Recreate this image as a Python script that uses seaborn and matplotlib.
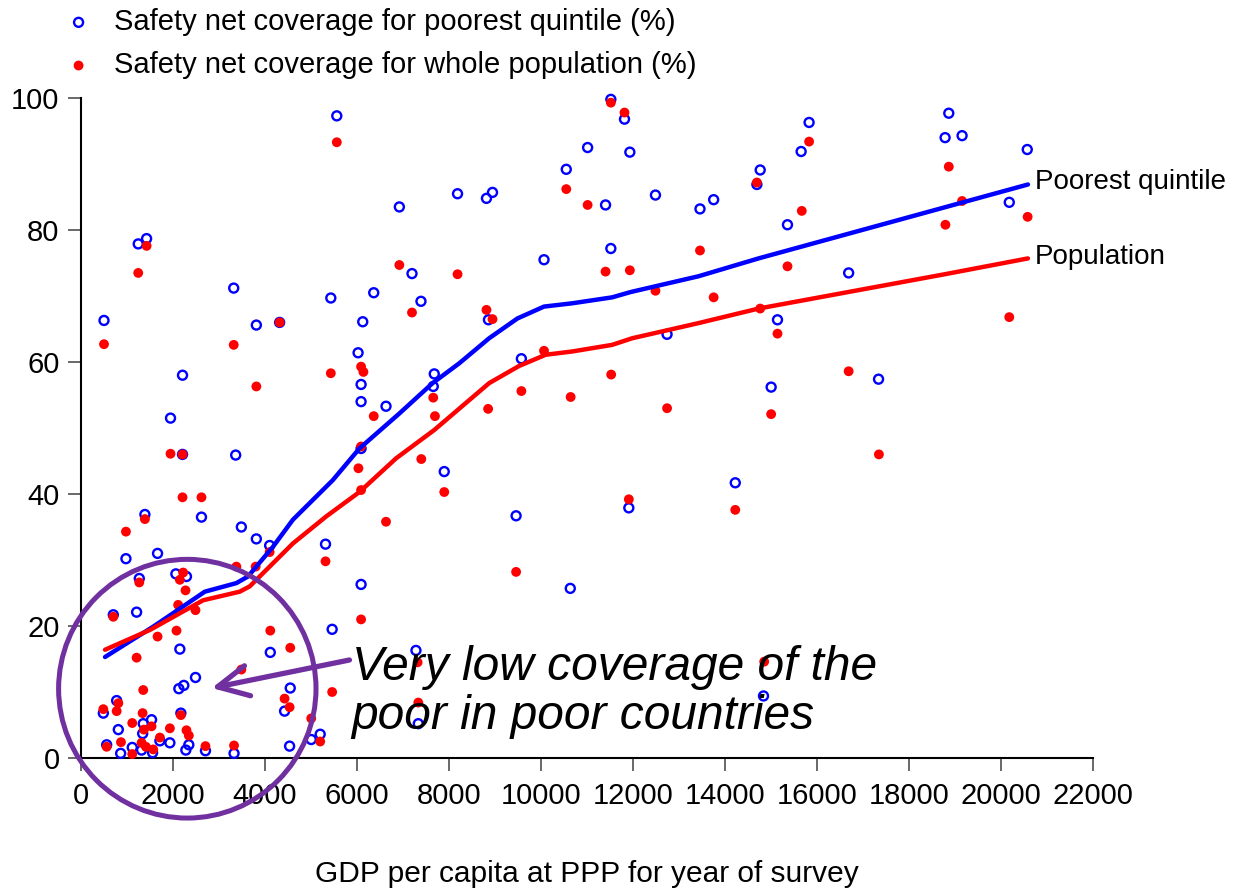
import pandas as pd
import matplotlib
matplotlib.use("Agg")
import matplotlib.pyplot as plt
from matplotlib.patches import Ellipse
import seaborn as sns

# --- values ---
poor_gdp = [499, 1243, 1425, 2206, 1945, 3319, 3811, 4317, 5560, 5430, 6920, 7195, 6363, 6124,
            6023, 6088, 6088, 6630, 7390,
            2206, 3362, 1388, 2618, 3485, 3811, 976, 1663, 4100, 5315, 1266, 2061, 2292, 701,
            1208, 2148, 5459, 4114, 2488, 2234, 2126, 4548, 4425, 5199, 5004, 4534, 3326, 2705,
            484, 774, 810, 557, 861, 1113, 1352, 1340, 1533, 1316, 1555, 1714, 1931, 2170, 2343,
            2278,
            8185, 8814, 8945, 10549, 11013, 11518, 11815, 11931, 11403, 11518, 12488, 13456,
            13753, 8857, 10065, 9573, 12740, 7679, 7657,
            15828, 15655, 14765, 14693, 15358, 15141, 16688, 15003, 17338, 18865, 18785, 19154,
            20571, 20180,
            7896, 9458, 10636, 11909, 14223, 7281, 7332, 14837, 6088, 6088]
poor_cov = [66.3, 77.9, 78.7, 58.0, 51.5, 71.2, 65.6, 66.0, 97.3, 69.7, 83.5, 73.4, 70.5, 66.1,
            61.4, 56.6, 54.0, 53.3, 69.2,
            46.0, 45.9, 36.9, 36.5, 35.0, 33.2, 30.2, 31.0, 32.2, 32.4, 27.2, 27.9, 27.5, 21.7,
            22.1, 16.5, 19.5, 16.0, 12.2, 11.0, 10.5, 10.6, 7.1, 3.6, 2.8, 1.8, 0.7, 1.1,
            6.8, 8.7, 4.3, 2.0, 0.7, 1.6, 5.2, 3.7, 5.8, 1.2, 0.8, 2.6, 2.3, 6.8, 2.0,
            1.2,
            85.5, 84.8, 85.7, 89.2, 92.5, 99.8, 96.8, 91.8, 83.8, 77.2, 85.3, 83.2,
            84.6, 66.4, 75.5, 60.5, 64.2, 58.2, 56.3,
            96.3, 91.9, 89.1, 86.9, 80.8, 66.4, 73.5, 56.2, 57.4, 97.7, 94.0, 94.3,
            92.2, 84.2,
            43.4, 36.7, 25.7, 37.9, 41.7, 16.3, 5.2, 9.4, 46.9, 26.3]

pop_gdp = [499, 1425, 1243, 3319, 3811, 4317, 5560, 5430, 6920, 7195, 6088, 6139, 6363,
           1945, 2206, 2206, 2618, 1388, 976, 4100, 5315, 3377, 3796, 1266, 2220, 2148, 2271,
           2111, 2488, 701, 2075, 1663, 1208, 4114, 4548, 3485, 1352, 4425, 4534, 5459, 5004,
           5199, 3326, 2705, 484, 810, 774, 868, 557, 1113, 1113, 1338, 1367, 1533, 1316, 1410,
           1569, 1714, 1931, 2170, 2292, 2343,
           8185, 8814, 8945, 10549, 11013, 11518, 11815, 11403, 11931, 12488, 13456, 13753,
           14693, 10065, 9573, 10644, 11525, 12740, 7657, 7694, 8850,
           15828, 15669, 15358, 14765, 15141, 16688, 15003, 18865, 19154, 18792, 20579, 20180,
           7397, 7896, 9458, 11909, 14223, 7317, 7332, 14852, 17346,
           6088, 6030, 6088, 6630, 6088]
pop_cov = [62.7, 77.6, 73.5, 62.6, 56.3, 66.0, 93.3, 58.3, 74.7, 67.5, 59.3, 58.5, 51.8,
           46.1, 46.0, 39.5, 39.5, 36.2, 34.3, 31.2, 29.8, 29.0, 29.0, 26.6, 28.1, 27.0, 25.4,
           23.2, 22.4, 21.4, 19.3, 18.4, 15.2, 19.3, 16.7, 13.4, 10.3, 9.0, 7.7, 10.0, 6.0,
           2.5, 1.9, 1.8, 7.4, 8.3, 7.1, 2.4, 1.7, 5.3, 0.6, 6.8, 4.3, 4.8, 2.3, 1.7,
           1.3, 3.1, 4.5, 6.5, 4.2, 3.4,
           73.3, 67.9, 66.5, 86.2, 83.8, 99.3, 97.8, 73.7, 73.9, 70.8, 76.9, 69.8,
           87.2, 61.7, 55.6, 54.7, 58.1, 53.0, 54.6, 51.8, 52.9,
           93.4, 82.9, 74.5, 68.1, 64.3, 58.6, 52.1, 89.6, 84.4, 80.8, 82.0, 66.8,
           45.3, 40.3, 28.2, 39.2, 37.6, 14.5, 8.4, 14.6, 46.0,
           47.2, 43.9, 40.6, 35.8, 21.0]

# smoothed curves
poor_fit_gdp = [521, 1569, 2690, 3377, 3629, 4172, 4605, 5473, 6052, 6920, 7643, 8221, 8872,
                9487, 10065, 10680, 11547, 11946, 13427, 14729, 20586]
poor_fit_cov = [15.3, 19.9, 25.2, 26.5, 27.5, 32.0, 36.1, 42.1, 46.9, 52.2, 56.8, 59.8, 63.6,
                66.6, 68.4, 68.9, 69.8, 70.6, 73.0, 75.7, 86.9]
pop_fit_gdp = [521, 1497, 2654, 3449, 3666, 4100, 4605, 5329, 6052, 6848, 7679, 8872, 9523,
               10101, 10680, 11547, 11981, 13427, 14729, 18777, 20586]
pop_fit_cov = [16.4, 19.4, 23.9, 25.2, 26.0, 29.0, 32.5, 36.6, 40.3, 45.4, 49.7, 56.8, 59.4,
               61.1, 61.6, 62.6, 63.6, 65.9, 68.1, 73.3, 75.7]

poor_df = pd.DataFrame({'gdp': poor_gdp, 'coverage': poor_cov})
pop_df = pd.DataFrame({'gdp': pop_gdp, 'coverage': pop_cov})

PURPLE = '#7030A0'

sns.set_theme(style="ticks")
plt.rcParams['font.family'] = ['Liberation Sans', 'DejaVu Sans']
plt.rcParams['text.color'] = 'black'
plt.rcParams['axes.labelcolor'] = 'black'

fig = plt.figure(figsize=(12.45, 8.88), dpi=100)
ax = fig.add_axes([0.0651, 0.1464, 0.8128, 0.7432])

sns.scatterplot(data=poor_df, x='gdp', y='coverage', ax=ax, marker='o', s=42,
                color='blue', facecolor='none', edgecolor='blue', linewidth=1.7,
                clip_on=False, zorder=3,
                label='Safety net coverage for poorest quintile (%)')
sns.scatterplot(data=pop_df, x='gdp', y='coverage', ax=ax, marker='o', s=50,
                color='red', edgecolor='none', linewidth=0,
                clip_on=False, zorder=3,
                label='Safety net coverage for whole population (%)')

sns.lineplot(x=poor_fit_gdp, y=poor_fit_cov, ax=ax, color='blue', lw=3.2, zorder=4)
sns.lineplot(x=pop_fit_gdp, y=pop_fit_cov, ax=ax, color='red', lw=3.2, zorder=4)

ax.annotate('Poorest quintile', xy=(poor_fit_gdp[-1], poor_fit_cov[-1]), xytext=(5, 2),
            textcoords='offset points', va='center', ha='left', fontsize=20,
            annotation_clip=False)
ax.annotate('Population', xy=(pop_fit_gdp[-1], pop_fit_cov[-1]), xytext=(5, 1),
            textcoords='offset points', va='center', ha='left', fontsize=20,
            annotation_clip=False)

# callout
ax.add_patch(Ellipse((2310, 10.5), width=2 * 2798, height=2 * 19.6, fill=False,
                     edgecolor=PURPLE, lw=3.6, clip_on=False, zorder=5))
ax.annotate('', xy=(2842, 10.6), xytext=(5835, 14.85),
            arrowprops=dict(arrowstyle='->,head_length=1.1,head_width=0.55', color=PURPLE,
                            lw=3.8, shrinkA=0, shrinkB=0, mutation_scale=20),
            zorder=5)
ax.text(5880, 10.0, 'Very low coverage of the\npoor in poor countries', fontsize=34.5,
        style='italic', va='center', ha='left', linespacing=1.1, zorder=6)

ax.set_xlim(0, 22000)
ax.set_ylim(0, 100)
ax.set_xticks(range(0, 22001, 2000))
ax.set_yticks(range(0, 101, 20))
ax.set_xlabel('GDP per capita at PPP for year of survey', fontsize=21.5, labelpad=36)
ax.set_ylabel('')

sns.despine(ax=ax)
for side in ['left', 'bottom']:
    ax.spines[side].set_linewidth(1.5)
    ax.spines[side].set_color('black')
ax.tick_params(direction='out', length=9.5, width=1.1, color='#404040',
               labelsize=21, labelcolor='black')
ax.tick_params(axis='x', pad=8)
ax.tick_params(axis='y', pad=6)

ax.legend(loc='upper left', bbox_to_anchor=(0.0514, 0.991), bbox_transform=fig.transFigure,
          frameon=False, fontsize=21, borderpad=0, borderaxespad=0, handlelength=1.0,
          handletextpad=0.72, labelspacing=0.52, markerscale=1.0)

fig.savefig('out.png', dpi=100)
